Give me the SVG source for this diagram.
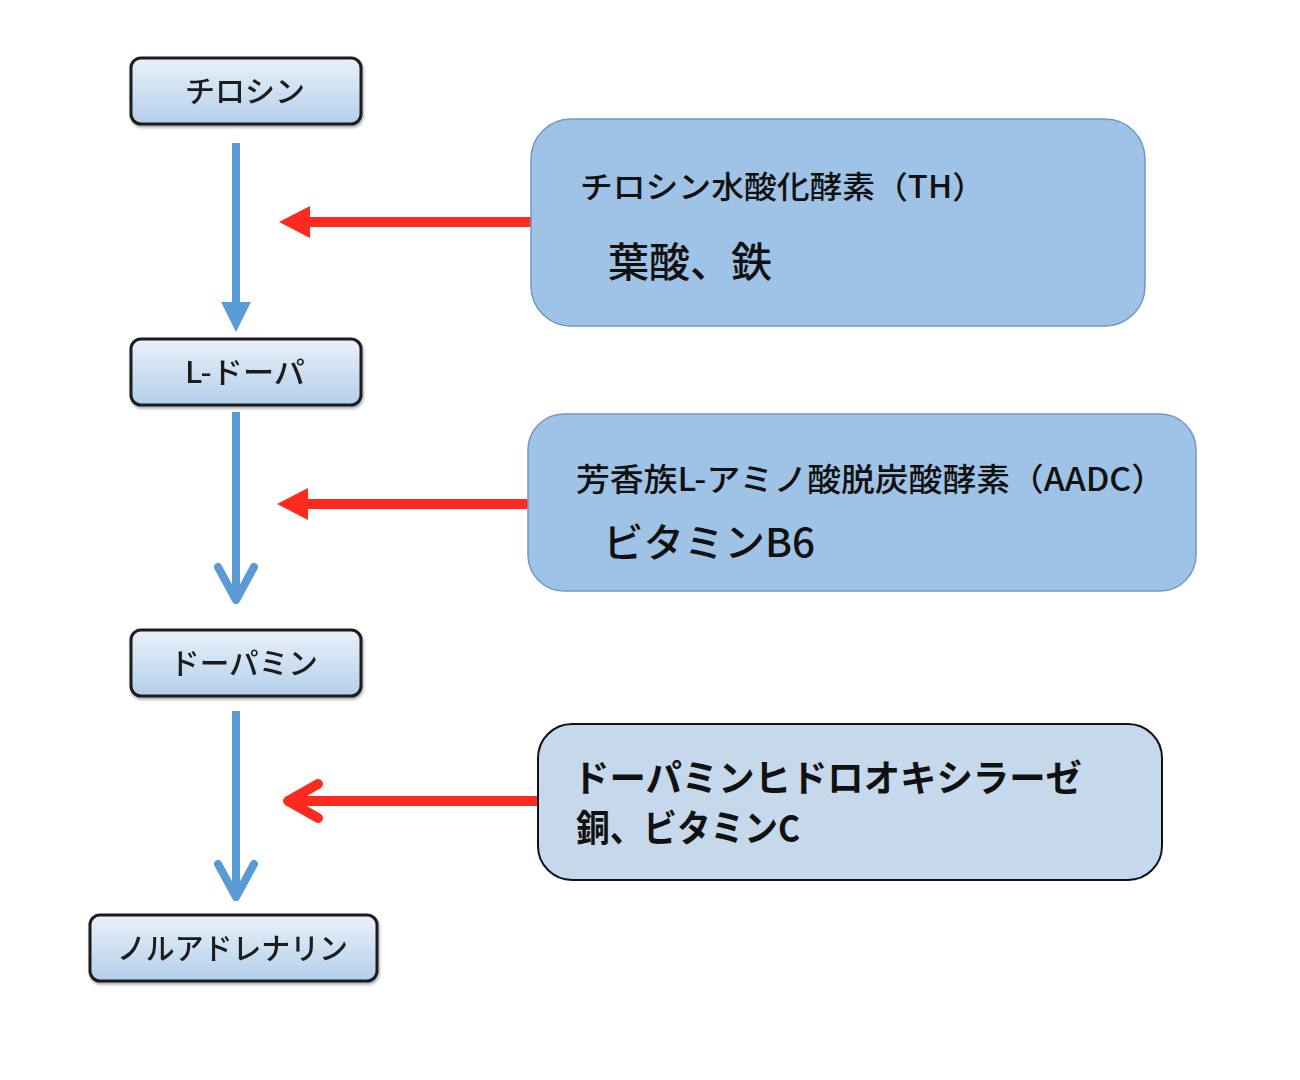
<svg xmlns="http://www.w3.org/2000/svg" width="1300" height="1080" viewBox="0 0 1300 1080">
  <defs>
    <linearGradient id="nodeGrad" x1="0" y1="0" x2="0" y2="1">
      <stop offset="0" stop-color="#e9f1fa"/>
      <stop offset="1" stop-color="#b3cfea"/>
    </linearGradient>
    <filter id="shadow" x="-10%" y="-10%" width="130%" height="140%">
      <feDropShadow dx="1" dy="2" stdDeviation="1.5" flood-color="#000" flood-opacity="0.35"/>
    </filter>
    <marker id="blueTri" markerUnits="userSpaceOnUse" viewBox="-30 -16 32 32" markerWidth="32" markerHeight="32" refX="-27" refY="0" orient="auto" overflow="visible">
      <path d="M-30,-15 L0,0 L-30,15 z" fill="#5b9bd5"/>
    </marker>
    <marker id="blueChev" markerUnits="userSpaceOnUse" viewBox="-40 -25 50 50" markerWidth="50" markerHeight="50" refX="0" refY="0" orient="auto" overflow="visible">
      <path d="M-34,-18 L-1,0 L-34,18" fill="none" stroke="#5b9bd5" stroke-width="8" stroke-linecap="round" stroke-linejoin="round"/>
    </marker>
    <marker id="redTri" markerUnits="userSpaceOnUse" viewBox="-32 -16 34 32" markerWidth="34" markerHeight="32" refX="-29" refY="0" orient="auto" overflow="visible">
      <path d="M-31,-16 L0,0 L-31,16 z" fill="#ff2a1f"/>
    </marker>
    <marker id="redChev" markerUnits="userSpaceOnUse" viewBox="-40 -25 50 50" markerWidth="50" markerHeight="50" refX="0" refY="0" orient="auto" overflow="visible">
      <path d="M-32,-17 L-2,0 L-32,17" fill="none" stroke="#ff2a1f" stroke-width="10" stroke-linecap="round" stroke-linejoin="round"/>
    </marker>
  </defs>
  <style>
    .node rect { fill: url(#nodeGrad); stroke: #1e1e1e; stroke-width: 3; }
    .node text { font-family: "Noto Sans CJK JP", "Noto Sans", sans-serif; font-size: 30px; font-weight: 500; fill: #1a1a1a; }
    .enz rect { fill: #9fc3e6; stroke: #6f98c6; stroke-width: 1.5; }
    .enz3 rect { fill: #c6d8eb; stroke: #111; stroke-width: 2; }
    .etext { font-family: "Noto Sans CJK JP", "Noto Sans", sans-serif; fill: #111; font-weight: 500; }
    .etext.heavy { font-weight: 700; }
    .blue { stroke: #5b9bd5; stroke-width: 8; fill: none; }
    .red { stroke: #ff2a1f; stroke-width: 10; fill: none; }
  </style>
  <rect width="1300" height="1080" fill="#ffffff"/>

  <g id="connectors">
    <line class="blue" x1="236" y1="143" x2="236" y2="305" marker-end="url(#blueTri)"/>
    <line class="blue" x1="236" y1="412" x2="236" y2="601" marker-end="url(#blueChev)"/>
    <line class="blue" x1="236" y1="711" x2="236" y2="898" marker-end="url(#blueChev)"/>
    <line class="red" x1="531" y1="222" x2="308" y2="222" marker-end="url(#redTri)"/>
    <line class="red" x1="529" y1="504" x2="306" y2="504" marker-end="url(#redTri)"/>
    <line class="red" x1="538" y1="801" x2="286" y2="801" marker-end="url(#redChev)"/>
  </g>

  <g id="node-tyrosine" class="node" filter="url(#shadow)">
    <rect x="131" y="58" width="230" height="66" rx="10"/>
    <text x="185" y="102" textLength="120" lengthAdjust="spacingAndGlyphs">チロシン</text>
  </g>
  <g id="node-ldopa" class="node" filter="url(#shadow)">
    <rect x="131" y="339" width="230" height="66" rx="10"/>
    <text x="185" y="383" textLength="120" lengthAdjust="spacingAndGlyphs">L-ドーパ</text>
  </g>
  <g id="node-dopamine" class="node" filter="url(#shadow)">
    <rect x="131" y="630" width="230" height="66" rx="10"/>
    <text x="170" y="674" textLength="148" lengthAdjust="spacingAndGlyphs">ドーパミン</text>
  </g>
  <g id="node-noradrenaline" class="node" filter="url(#shadow)">
    <rect x="90" y="915" width="287" height="66" rx="10"/>
    <text x="117" y="959" textLength="231" lengthAdjust="spacingAndGlyphs">ノルアドレナリン</text>
  </g>

  <g id="enzyme-th" class="enz">
    <rect x="531" y="119" width="614" height="207" rx="40"/>
    <text class="etext" x="580" y="198" font-size="31" textLength="405" lengthAdjust="spacingAndGlyphs">チロシン水酸化酵素（TH）</text>
    <text class="etext" x="608" y="277" font-size="41">葉酸、鉄</text>
  </g>
  <g id="enzyme-aadc" class="enz">
    <rect x="528" y="414" width="668" height="177" rx="36"/>
    <text class="etext" x="576" y="491" font-size="32" textLength="589" lengthAdjust="spacingAndGlyphs">芳香族L-アミノ酸脱炭酸酵素（AADC）</text>
    <text class="etext" x="603" y="557" font-size="40" textLength="212" lengthAdjust="spacingAndGlyphs">ビタミンB6</text>
  </g>
  <g id="enzyme-dbh" class="enz3">
    <rect x="538" y="724" width="624" height="156" rx="34"/>
    <text class="etext heavy" x="573" y="792" font-size="37" textLength="509" lengthAdjust="spacingAndGlyphs">ドーパミンヒドロオキシラーゼ</text>
    <text class="etext heavy" x="576" y="842" font-size="37" textLength="224" lengthAdjust="spacingAndGlyphs">銅、ビタミンC</text>
  </g>
</svg>
